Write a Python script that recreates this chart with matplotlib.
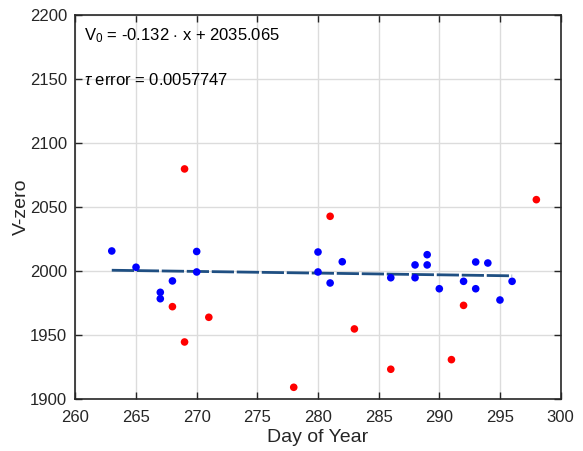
import numpy as np
import matplotlib
matplotlib.use("Agg")
import matplotlib.pyplot as plt

plt.rcParams['font.family'] = ['Liberation Sans', 'DejaVu Sans']
plt.rcParams['mathtext.fontset'] = 'custom'
plt.rcParams['mathtext.it'] = 'Liberation Sans:italic'
plt.rcParams['mathtext.rm'] = 'Liberation Sans'

# Accepted measurements (day of year, V-zero)
kept_day = [263, 265, 267, 267, 268, 270, 270, 280, 280, 281, 282, 286,
            288, 288, 289, 289, 290, 292, 293, 293, 294, 295, 296]
kept_v0 = [2015.4, 2002.7, 1983.1, 1978.1, 1992.0, 2015.0, 1999.0, 2014.6,
           1999.0, 1990.4, 2007.0, 1994.5, 2004.5, 1994.5, 2012.5, 2004.5,
           1985.9, 1991.7, 2006.8, 1985.9, 2006.0, 1977.1, 1991.7]

# Rejected measurements
rej_day = [268, 269, 269, 271, 278, 281, 283, 286, 291, 292, 298]
rej_v0 = [1971.9, 2079.5, 1944.3, 1963.6, 1908.9, 2042.5, 1954.5, 1923.0,
          1930.5, 1972.9, 2055.5]

# Linear fit coefficients
slope = -0.132
intercept = 2035.065
tau_error = 0.0057747

x_ticks = list(range(260, 301, 5))
y_ticks = list(range(1900, 2201, 50))

fig = plt.figure(figsize=(5.83, 4.51), dpi=100)
ax = fig.add_axes([0.1293, 0.1160, 0.8323, 0.8514])

fit_x = np.array(sorted(kept_day), dtype=float)
fit_y = slope * fit_x + intercept
ax.plot(fit_x, fit_y, color='#1f4f82', lw=2.0, dashes=(8, 1), zorder=2)

ax.scatter(rej_day, rej_v0, s=30, color='#ff0000', edgecolors='none', zorder=3)
ax.scatter(kept_day, kept_v0, s=30, color='#0000ff', edgecolors='none', zorder=3)

ax.set_xlim(260, 300)
ax.set_ylim(1900, 2200)
ax.set_xticks(x_ticks)
ax.set_yticks(y_ticks)
ax.grid(True, color='#dcdcdc', lw=1.0)
ax.set_axisbelow(True)
ax.tick_params(direction='in', length=5, width=1, top=True, right=True,
               labelsize=12, colors='#262626')
ax.tick_params(axis='y', pad=6)
ax.tick_params(axis='x', pad=8)
for sp in ax.spines.values():
    sp.set_color('#262626')
    sp.set_linewidth(1.2)

ax.set_xlabel('Day of Year', fontsize=14, color='#262626', labelpad=3)
ax.set_ylabel('V-zero', fontsize=14, color='#262626', labelpad=0)

ax.text(0.018, 0.945, r'V$_{0}$ = %.3f $\cdot$ x + %.3f' % (slope, intercept),
        transform=ax.transAxes, fontsize=12, color='black', va='center')
ax.text(0.018, 0.83, r'$\tau$ error = %.7f' % tau_error,
        transform=ax.transAxes, fontsize=12, color='black', va='center')

fig.savefig('out.png', dpi=100)
